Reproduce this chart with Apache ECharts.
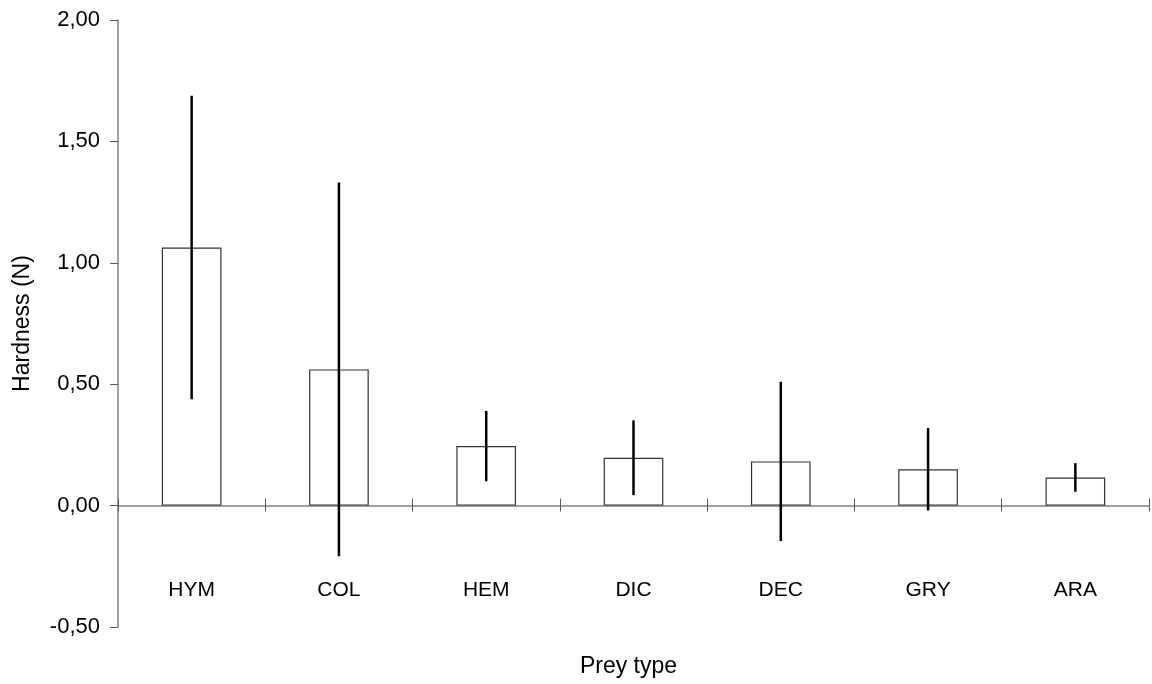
<!DOCTYPE html>
<html>
<head>
<meta charset="utf-8">
<script src="https://cdn.jsdelivr.net/npm/echarts@6/dist/echarts.min.js"></script>
<style>
  html, body { margin: 0; padding: 0; background: #fff; }
  #chart { width: 1152px; height: 684px; }
</style>
</head>
<body>
<div id="chart"></div>
<script>
const categories = ['HYM', 'COL', 'HEM', 'DIC', 'DEC', 'GRY', 'ARA'];
const means = [1.063, 0.561, 0.245, 0.197, 0.182, 0.150, 0.116];
const errors = [0.625, 0.770, 0.145, 0.154, 0.328, 0.170, 0.059];
const yTicks = { min: -0.5, max: 2.0, interval: 0.5 };

const errData = categories.map((c, i) => [i, means[i] - errors[i], means[i] + errors[i]]);
const fmt = v => v.toFixed(2).replace('.', ',');
const FONT = 'Liberation Sans, Arial, sans-serif';
const gridBox = { left: 118, right: 3, top: 20, bottom: 57, containLabel: false, outerBoundsMode: 'none' };

function hiddenY(idx) {
  return {
    type: 'value', gridIndex: idx,
    min: yTicks.min, max: yTicks.max, interval: yTicks.interval,
    axisLine: { show: false }, axisTick: { show: false },
    axisLabel: { show: false }, splitLine: { show: false }
  };
}

const chart = echarts.init(document.getElementById('chart'));
chart.setOption({
  animation: false,
  backgroundColor: '#fff',
  grid: [
    Object.assign({}, gridBox),
    Object.assign({}, gridBox),
    Object.assign({}, gridBox)
  ],
  xAxis: [{
    type: 'category',
    gridIndex: 0,
    data: categories,
    name: 'Prey type',
    nameLocation: 'middle',
    nameGap: 28,
    nameTextStyle: { fontFamily: FONT, fontSize: 23, color: '#000', padding: [0, 10, 0, 0] },
    axisLine: { show: false, onZero: false },
    axisTick: { show: false },
    axisLabel: { margin: -47, fontFamily: FONT, fontSize: 21, color: '#000' },
    splitLine: { show: false }
  }, {
    type: 'category',
    gridIndex: 1,
    data: categories,
    axisLine: { show: true, onZero: true, lineStyle: { color: '#808080', width: 1.5 } },
    axisTick: { show: true, inside: false, length: 6, lineStyle: { color: '#555', width: 1 } },
    axisLabel: { show: false },
    splitLine: { show: false }
  }, {
    type: 'category',
    gridIndex: 2,
    data: categories,
    axisLine: { show: false, onZero: true },
    axisTick: { show: true, inside: true, length: 7, lineStyle: { color: '#555', width: 1 } },
    axisLabel: { show: false },
    splitLine: { show: false }
  }],
  yAxis: [{
    type: 'value',
    gridIndex: 0,
    min: yTicks.min,
    max: yTicks.max,
    interval: yTicks.interval,
    name: 'Hardness (N)',
    nameLocation: 'middle',
    nameGap: 84,
    nameTextStyle: { fontFamily: FONT, fontSize: 23, color: '#000' },
    axisLine: { show: true, lineStyle: { color: '#808080', width: 1.5 } },
    axisTick: { show: true, inside: false, length: 8, lineStyle: { color: '#555', width: 1 } },
    axisLabel: { margin: 18, fontFamily: FONT, fontSize: 22, color: '#000', formatter: fmt },
    splitLine: { show: false }
  }, hiddenY(1), hiddenY(2)],
  series: [{
    type: 'bar',
    xAxisIndex: 0,
    yAxisIndex: 0,
    data: means,
    barWidth: '40.5%',
    itemStyle: { color: '#fff', borderColor: '#333', borderWidth: 1.2 },
    z: 2
  }, {
    type: 'custom',
    xAxisIndex: 0,
    yAxisIndex: 0,
    data: errData,
    encode: { x: 0, y: [1, 2] },
    z: 5,
    renderItem: function (params, api) {
      const idx = api.value(0);
      const p1 = api.coord([idx, api.value(1)]);
      const p2 = api.coord([idx, api.value(2)]);
      return {
        type: 'line',
        shape: { x1: p1[0], y1: p1[1], x2: p2[0], y2: p2[1] },
        style: { stroke: '#000', lineWidth: 2.5 }
      };
    }
  }]
});
</script>
</body>
</html>
